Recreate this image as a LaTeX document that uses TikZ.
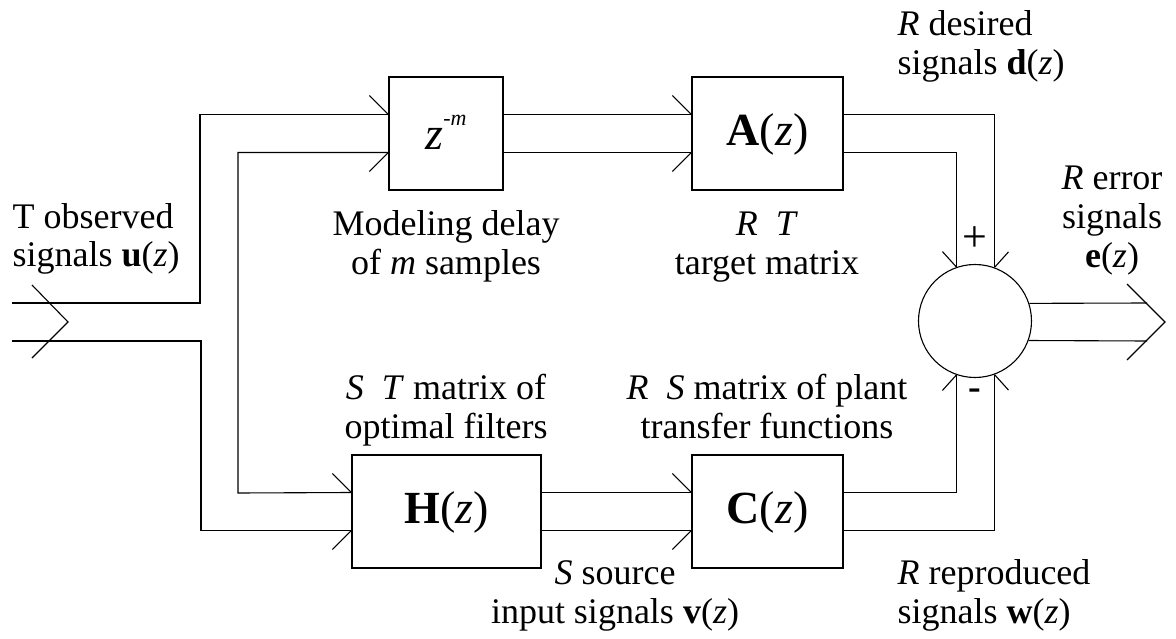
\documentclass[tikz,border=0pt]{standalone}
\usepackage{fontspec}
\setmainfont{Liberation Serif}
\usetikzlibrary{calc}
\newcommand\xgap{\hspace{0.5em}}
\begin{document}
\begin{tikzpicture}[x=1pt,y=-1pt,line width=1.1pt,
  blk/.style={draw,line width=1.1pt,minimum width=#1,minimum height=113pt,inner sep=0pt,
    text height=29pt,text depth=5pt,font=\fontsize{46}{50}\selectfont},
  sumnode/.style={draw,circle,minimum size=113pt,inner sep=0pt},
  lbl/.style={inner sep=0pt,align=center,font=\fontsize{36}{39}\selectfont},
  lbll/.style={lbl,align=left},
  wire/.style={line width=1.1pt},
  tick/.style={line width=1.1pt}]
\useasboundingbox (0,0) rectangle (1176,639);

% blocks
\node[blk=114pt,text height=35pt,text depth=2pt] (zm) at (446,133.5)
  {\textit{z}\raisebox{24pt}{\fontsize{22}{24}\selectfont -\textit{m}}};
\node[blk=151pt] (A) at (767.5,133.5) {\textbf{A}(\textit{z})};
\node[blk=189pt] (H) at (446.5,511.5) {\textbf{H}(\textit{z})};
\node[blk=151pt] (C) at (767.5,511.5) {\textbf{C}(\textit{z})};
\node[sumnode] (sum) at (975,321) {};

% ports of the blocks
\foreach \b in {zm,A,H,C}{
  \coordinate (\b-i1) at ($(\b.west)+(0,-19)$);
  \coordinate (\b-i2) at ($(\b.west)+(0,19)$);
  \coordinate (\b-o1) at ($(\b.east)+(0,-19)$);
  \coordinate (\b-o2) at ($(\b.east)+(0,19)$);
}
% ports of the summing junction
\coordinate (s-t1) at (sum.109.65);
\coordinate (s-t2) at (sum.70.35);
\coordinate (s-b1) at (sum.-109.65);
\coordinate (s-b2) at (sum.-70.35);
\coordinate (s-o1) at (sum.18.6);
\coordinate (s-o2) at (sum.-20.7);

% input bus
\coordinate (in1) at (12,303);
\coordinate (in2) at (12,341);
\draw[wire] (in1) -- (200,303) |- (zm-i1);
\draw[wire] (in2) -- (201,341) |- (H-i2);
\draw[wire] (zm-i2) -| (238,493) -- (H-i1);
\draw[wire] (32,285) -- (68,322) -- (32,358);

% block to block
\draw[wire] (zm-o1) -- (A-i1);
\draw[wire] (zm-o2) -- (A-i2);
\draw[wire] (H-o1) -- (C-i1);
\draw[wire] (H-o2) -- (C-i2);

% into the summing junction
\draw[wire] (A-o1) -| (s-t2);
\draw[wire] (A-o2) -| (s-t1);
\draw[wire] (C-o1) -| (s-b1);
\draw[wire] (C-o2) -| (s-b2);

% output bus
\coordinate (out1) at (1147,303);
\coordinate (out2) at (1147,341);
\draw[wire] (s-o1) -- (out1);
\draw[wire] (s-o2) -- (out2);
\draw[wire] (1127,284) -- (1165,322) -- (1127,360);

% half arrow heads at the inputs
\foreach \b in {zm,A,H,C}{
  \draw[tick] ($(\b-i1)+(-19,-19)$) -- (\b-i1);
  \draw[tick] ($(\b-i2)+(-19,19)$) -- (\b-i2);
}
\draw[tick] ($(s-t1)+(-14,-15.5)$) -- (s-t1);
\draw[tick] ($(s-t2)+(14,-15.5)$) -- (s-t2);
\draw[tick] ($(s-b1)+(-14,15.5)$) -- (s-b1);
\draw[tick] ($(s-b2)+(14,15.5)$) -- (s-b2);

% signs
\node[lbl,font=\fontsize{44}{46}\selectfont] (plus) at (975,239) {+};
\node[lbl,font=\fontsize{38}{40}\selectfont\bfseries] (minus) at (975,394.5) {-};

% labels (anchored at the baseline of their last line)
\node[lbll,anchor=base west] (tin) at (12,267)
  {T observed\\signals \textbf{u}(\textit{z})};
\node[lbl,anchor=base] (tdelay) at (446,275)
  {Modeling delay\\of \textit{m} samples};
\node[lbl,anchor=base] (ttarget) at (767,275)
  {\textit{R}\xgap\textit{T}\\target matrix};
\node[lbll,anchor=base west] (tdes) at (897,75)
  {\textit{R} desired\\signals \textbf{d}(\textit{z})};
\node[lbl,anchor=base] (terr) at (1112,268)
  {\textit{R} error\\signals\\\textbf{e}(\textit{z})};
\node[lbl,anchor=base] (tfilt) at (446,438)
  {\textit{S}\xgap\textit{T} matrix of\\optimal filters};
\node[lbl,anchor=base] (tplant) at (767,438)
  {\textit{R}\xgap\textit{S} matrix of plant\\transfer functions};
\node[lbl,anchor=base] (tsrc) at (615,623)
  {\textit{S} source\\input signals \textbf{v}(\textit{z})};
\node[lbll,anchor=base west] (trep) at (897,623)
  {\textit{R} reproduced\\signals \textbf{w}(\textit{z})};
\end{tikzpicture}
\end{document}
